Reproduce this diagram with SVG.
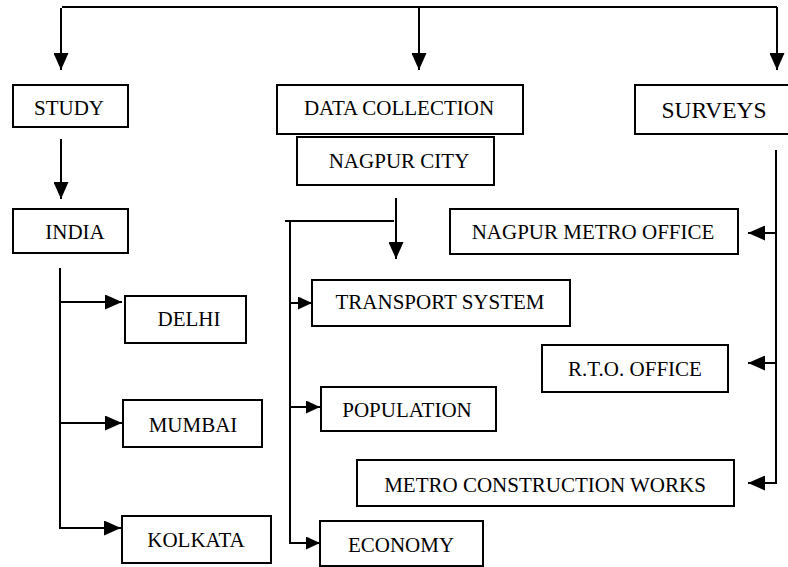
<svg xmlns="http://www.w3.org/2000/svg" width="788" height="567" viewBox="0 0 788 567" font-family="'Liberation Serif', 'Times New Roman', serif">
<style>
.box{fill:#fff;stroke:#000;stroke-width:2}
text{font-family:'Liberation Serif','Times New Roman',serif;font-size:21px;fill:#000;text-anchor:middle}
.big{font-size:23.5px}
.ln{fill:none;stroke:#000;stroke-width:2}
</style>
<defs>
<marker id="ah" markerUnits="userSpaceOnUse" markerWidth="17" markerHeight="15" refX="17" refY="7.5" orient="auto">
<path d="M0,0 L17,7.5 L0,15 z" fill="#000"/>
</marker>
<marker id="ahs" markerUnits="userSpaceOnUse" markerWidth="14" markerHeight="13" refX="14" refY="6.5" orient="auto">
<path d="M0,0 L14,6.5 L0,13 z" fill="#000"/>
</marker>
</defs>
<g id="connectors">
<path class="ln" d="M62,7 H777"/>
<path class="ln" d="M61,8 V70" marker-end="url(#ah)"/>
<path class="ln" d="M419,8 V70" marker-end="url(#ah)"/>
<path class="ln" d="M777,7 V70" marker-end="url(#ah)"/>
<path class="ln" d="M61,139 V199" marker-end="url(#ah)"/>
<path class="ln" d="M60,268 V528 H121" marker-end="url(#ah)"/>
<path class="ln" d="M60,302 H122" marker-end="url(#ah)"/>
<path class="ln" d="M61,423 H122" marker-end="url(#ah)"/>
<path class="ln" d="M285,221 H394"/>
<path class="ln" d="M396,198 V259" marker-end="url(#ah)"/>
<path class="ln" d="M290,221 V543 H320" marker-end="url(#ahs)"/>
<path class="ln" d="M290,303 H312" marker-end="url(#ahs)"/>
<path class="ln" d="M290,407 H320" marker-end="url(#ahs)"/>
<path class="ln" d="M776,150 V483 H748" marker-end="url(#ah)"/>
<path class="ln" d="M776,233 H748" marker-end="url(#ah)"/>
<path class="ln" d="M776,363 H748" marker-end="url(#ah)"/>
</g>
<g id="study"><rect class="box" x="13" y="85" width="115" height="42"/><text x="69" y="115">STUDY</text></g>
<g id="data-collection"><rect class="box" x="277" y="85" width="246" height="49"/><text x="399" y="115">DATA COLLECTION</text></g>
<g id="surveys"><rect class="box" x="635" y="85" width="160" height="49"/><text class="big" x="714" y="118">SURVEYS</text></g>
<g id="nagpur-city"><rect class="box" x="297" y="137" width="197" height="48"/><text x="399" y="168">NAGPUR CITY</text></g>
<g id="india"><rect class="box" x="13" y="209" width="115" height="44"/><text x="75" y="239">INDIA</text></g>
<g id="nagpur-metro-office"><rect class="box" x="450" y="209" width="288" height="45"/><text x="593" y="239">NAGPUR METRO OFFICE</text></g>
<g id="transport-system"><rect class="box" x="312" y="280" width="258" height="46"/><text x="440" y="309">TRANSPORT SYSTEM</text></g>
<g id="delhi"><rect class="box" x="125" y="296" width="121" height="47"/><text x="189" y="326">DELHI</text></g>
<g id="rto-office"><rect class="box" x="542" y="345" width="186" height="47"/><text x="635" y="376">R.T.O. OFFICE</text></g>
<g id="population"><rect class="box" x="321" y="387" width="175" height="44"/><text x="407" y="417">POPULATION</text></g>
<g id="mumbai"><rect class="box" x="123" y="400" width="139" height="47"/><text x="193" y="432">MUMBAI</text></g>
<g id="metro-construction-works"><rect class="box" x="357" y="460" width="377" height="46"/><text x="545" y="492">METRO CONSTRUCTION WORKS</text></g>
<g id="kolkata"><rect class="box" x="122" y="516" width="149" height="47"/><text x="196" y="547">KOLKATA</text></g>
<g id="economy"><rect class="box" x="320" y="521" width="163" height="45"/><text x="401" y="552">ECONOMY</text></g>
</svg>
